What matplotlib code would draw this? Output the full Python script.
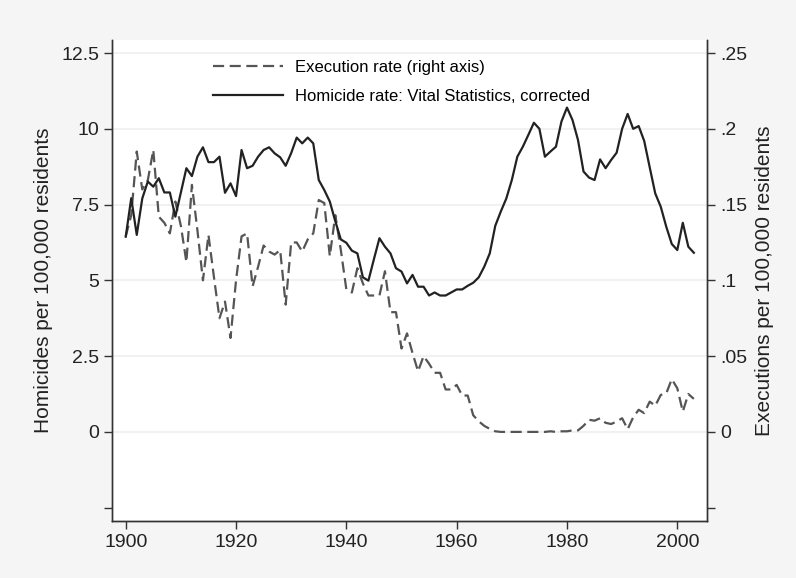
import matplotlib.pyplot as plt
import numpy as np

plt.rcParams['font.family'] = ['Liberation Sans', 'DejaVu Sans']

# Data
years = np.arange(1900, 2004)

homicide = [6.44, 7.71, 6.5, 7.7, 8.26, 8.09, 8.37, 7.9, 7.9, 7.1,
            7.9, 8.7, 8.44, 9.08, 9.39, 8.9, 8.9, 9.08, 7.89, 8.2,
            7.78, 9.3, 8.7, 8.78, 9.08, 9.3, 9.39, 9.19, 9.06, 8.78,
            9.2, 9.71, 9.52, 9.71, 9.52, 8.31, 7.98, 7.6, 6.95, 6.35,
            6.24, 5.98, 5.89, 5.1, 4.99, 5.7, 6.39, 6.11, 5.89, 5.4,
            5.29, 4.9, 5.18, 4.79, 4.79, 4.5, 4.6, 4.5, 4.5, 4.6,
            4.7, 4.7, 4.82, 4.92, 5.1, 5.45, 5.89, 6.8, 7.27, 7.7,
            8.31, 9.08, 9.41, 9.8, 10.2, 10.0, 9.08, 9.25, 9.41, 10.24,
            10.7, 10.29, 9.63, 8.59, 8.39, 8.31, 8.99, 8.7, 8.97, 9.21,
            10.0, 10.49, 10.0, 10.09, 9.6, 8.73, 7.87, 7.43, 6.77, 6.2,
            6.0, 6.9, 6.11, 5.91]

executions = [.129, .143, .185, .160, .166, .186, .142, .138, .131, .152,
              .136, .112, .163, .133, .100, .130, .102, .075, .086, .062,
              .100, .129, .131, .096, .109, .123, .119, .117, .120, .084,
              .125, .125, .119, .127, .131, .153, .151, .116, .143, .120,
              .094, .092, .108, .098, .090, .090, .090, .106, .079, .079,
              .055, .065, .052, .040, .050, .045, .039, .039, .028, .028,
              .031, .024, .024, .011, .007, .004, .002, .0004, 0, 0,
              0, 0, 0, 0, 0, 0, 0, .0004, 0, .0004,
              .0004, .001, .001, .004, .008, .0074, .009, .006, .0052, .0068,
              .009, .0018, .0096, .0146, .0124, .020, .0172, .0244, .0254, .0348,
              .0288, .0134, .025, .0218]

left_ticks = [-2.5, 0, 2.5, 5, 7.5, 10, 12.5]
left_labels = ['', '0', '2.5', '5', '7.5', '10', '12.5']
right_ticks = [-0.05, 0, 0.05, 0.1, 0.15, 0.2, 0.25]
right_labels = ['', '0', '.05', '.1', '.15', '.2', '.25']
x_ticks = [1900, 1920, 1940, 1960, 1980, 2000]

fig = plt.figure(figsize=(7.96, 5.78), dpi=100, facecolor='#f5f5f5')
ax = fig.add_axes([0.1411, 0.0986, 0.7467, 0.8322])
ax2 = ax.twinx()

ylo, yhi = -2.94, 12.93
ax.set_xlim(1897.57, 2005.33)
ax.set_ylim(ylo, yhi)
ax2.set_ylim(ylo / 50, yhi / 50)

# light horizontal gridlines drawn on the back axes
for v in right_ticks[1:]:
    ax2.axhline(v, color='#efefef', lw=1.2, zorder=0)

l1, = ax2.plot(years, executions, color='#555555', lw=1.6, dashes=(5, 2.5),
               label='Execution rate (right axis)')
l2, = ax.plot(years, homicide, color='#222222', lw=1.6,
              label='Homicide rate: Vital Statistics, corrected')
ax.set_zorder(ax2.get_zorder() + 1)
ax.patch.set_visible(False)
ax2.patch.set_facecolor('white')
ax2.patch.set_visible(True)

ax.set_xticks(x_ticks)
ax.set_yticks(left_ticks)
ax.set_yticklabels(left_labels)
ax2.set_yticks(right_ticks)
ax2.set_yticklabels(right_labels)

for a in (ax, ax2):
    a.spines['top'].set_visible(False)
    for s in ('left', 'right', 'bottom'):
        a.spines[s].set_color('#333333')
        a.spines[s].set_linewidth(1.0)
    a.tick_params(direction='out', length=6, width=1, color='#333333',
                  labelsize=14, labelcolor='#222222')

ax.set_ylabel('Homicides per 100,000 residents', fontsize=15, color='#222222', labelpad=6)
ax2.set_ylabel('Executions per 100,000 residents', fontsize=15, color='#222222', labelpad=6)

ax.legend([l1, l2], [l1.get_label(), l2.get_label()], loc='upper left',
          bbox_to_anchor=(0.145, 0.99), frameon=False, fontsize=12,
          handlelength=4.2, handletextpad=0.7, labelspacing=0.85)

fig.savefig('out.png', dpi=100, facecolor=fig.get_facecolor())
